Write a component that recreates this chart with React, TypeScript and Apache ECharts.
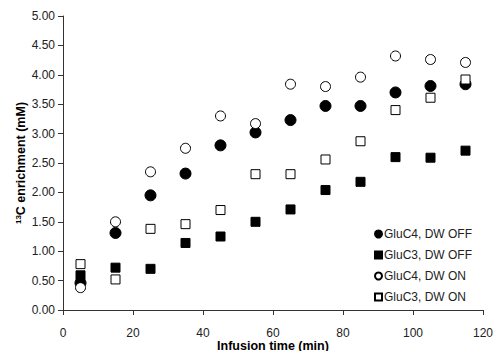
import React, { useEffect, useRef } from "react";
import * as echarts from "echarts";

const times = [5, 15, 25, 35, 45, 55, 65, 75, 85, 95, 105, 115];
const gluC4Off = [0.46, 1.31, 1.95, 2.32, 2.8, 3.02, 3.23, 3.47, 3.47, 3.7, 3.81, 3.84];
const gluC3Off = [0.59, 0.72, 0.7, 1.14, 1.25, 1.5, 1.71, 2.04, 2.18, 2.6, 2.59, 2.71];
const gluC4On = [0.38, 1.5, 2.35, 2.75, 3.3, 3.17, 3.84, 3.8, 3.96, 4.32, 4.26, 4.21];
const gluC3On = [0.78, 0.52, 1.38, 1.46, 1.7, 2.31, 2.31, 2.56, 2.87, 3.4, 3.61, 3.92];
const seriesNames = ["GluC4, DW OFF", "GluC3, DW OFF", "GluC4, DW ON", "GluC3, DW ON"];

const pair = (ys: number[]) => times.map((t, i) => [t, ys[i]]);

export default function App() {
  const ref = useRef<HTMLDivElement>(null);
  useEffect(() => {
    if (!ref.current) return;
    const chart = echarts.init(ref.current, undefined, { renderer: "svg" });
    const font = "Liberation Sans, Arial, sans-serif";
    const mk = (name: string, data: number[], symbol: string, filled: boolean, size: number) => ({
      name,
      type: "scatter",
      data: pair(data),
      symbol,
      symbolSize: size,
      itemStyle: {
        color: filled ? "#000" : "#fff",
        borderColor: "#000",
        borderWidth: 1,
        opacity: 1,
      },
    });
    chart.setOption({
      animation: false,
      backgroundColor: "#fff",
      textStyle: { fontFamily: font },
      grid: { left: 63, right: 10, top: 16, bottom: 41, outerBoundsMode: "none", containLabel: false },
      xAxis: {
        type: "value",
        min: 0,
        max: 120,
        interval: 20,
        splitLine: { show: false },
        axisLine: { lineStyle: { color: "#333", width: 1 } },
        axisTick: { show: true, inside: false, length: 5, lineStyle: { color: "#333" } },
        axisLabel: { color: "#222", fontSize: 12, margin: 17, fontFamily: font },
        name: "Infusion time (min)",
        nameLocation: "middle",
        nameGap: 29,
        nameMoveOverlap: false,
        nameTextStyle: { color: "#000", fontSize: 12.5, fontWeight: "bold", fontFamily: font },
      },
      yAxis: {
        type: "value",
        min: 0,
        max: 5,
        interval: 0.5,
        splitLine: { show: false },
        axisLine: { show: true, lineStyle: { color: "#333", width: 1 } },
        axisTick: { show: true, inside: false, length: 5, lineStyle: { color: "#333" } },
        axisLabel: {
          color: "#222",
          fontSize: 12,
          margin: 8,
          fontFamily: font,
          formatter: (v: number) => v.toFixed(2),
        },
        name: "{sup|13}{b|C enrichment (mM)}",
        nameLocation: "middle",
        nameGap: 35,
        nameMoveOverlap: false,
        nameTextStyle: {
          color: "#000",
          fontFamily: font,
          rich: {
            sup: { fontSize: 8, fontWeight: "bold", fontFamily: font, padding: [0, 0, 6, 0] },
            b: { fontSize: 12.5, fontWeight: "bold", fontFamily: font },
          },
        },
      },
      legend: {
        orient: "vertical",
        left: 369,
        top: 223,
        itemWidth: 7,
        itemHeight: 7,
        itemGap: 9,
        textStyle: { fontSize: 12, color: "#222", fontFamily: font, padding: [0, 0, 0, -3] },
        data: [
          { name: seriesNames[0], icon: "circle" },
          { name: seriesNames[1], icon: "rect" },
          { name: seriesNames[2], icon: "circle" },
          { name: seriesNames[3], icon: "rect" },
        ],
      },
      series: [
        mk(seriesNames[0], gluC4Off, "circle", true, 11),
        mk(seriesNames[1], gluC3Off, "rect", true, 9),
        mk(seriesNames[2], gluC4On, "circle", false, 10),
        mk(seriesNames[3], gluC3On, "rect", false, 9),
      ],
    });
    return () => chart.dispose();
  }, []);
  return <div ref={ref} style={{ width: 493, height: 351, position: "absolute", left: 0, top: 0 }} />;
}
